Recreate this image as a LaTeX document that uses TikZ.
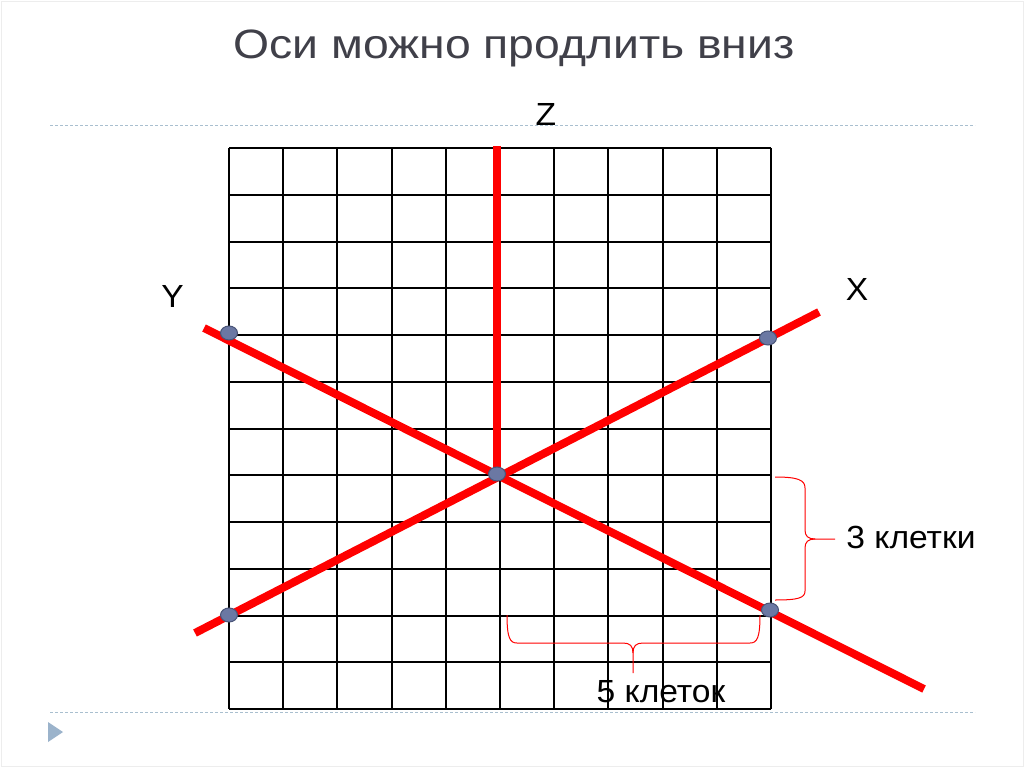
\documentclass[tikz,border=0pt]{standalone}
\usepackage{fontspec}
\setmainfont{Liberation Sans}
\usetikzlibrary{shapes.geometric}
\definecolor{axisred}{HTML}{FF0000}
\definecolor{dotfill}{HTML}{6B78A3}
\definecolor{dotline}{HTML}{4A5578}
\definecolor{rulecol}{HTML}{A9BFCF}
\definecolor{titlecol}{HTML}{404049}
\definecolor{tricol}{HTML}{9BB3CB}
\begin{document}
\begin{tikzpicture}[x=1pt,y=-1pt,
  gridline/.style={line width=2pt, black},
  axisline/.style={line width=8pt, axisred},
  ptdot/.style={ellipse, fill=dotfill, draw=dotline, line width=1pt, minimum width=17pt, minimum height=14pt, inner sep=0pt},
  lbl/.style={font=\fontsize{32}{38}\selectfont, text=black, inner sep=0pt, xscale=1.05},
  bracestyle/.style={axisred, line width=1pt},
  rulestyle/.style={rulecol, line width=1pt, dash pattern=on 3pt off 2pt}]
\useasboundingbox (0,0) rectangle (1024,767);
\fill[white] (0,0) rectangle (1024,767);
\draw[black!7] (1,1) rectangle (1023,766);
% title
\node[font=\fontsize{41}{48}\selectfont, text=titlecol, inner sep=0pt, anchor=base, xscale=1.13] (title) at (514,59) {Оси можно продлить вниз};
% rules
\coordinate (r1a) at (50,126); \coordinate (r1b) at (975,126);
\coordinate (r2a) at (50,712); \coordinate (r2b) at (975,712);
\draw[rulestyle] (r1a) -- (r1b);
\draw[rulestyle] (r2a) -- (r2b);
\fill[tricol] (48,722) -- (48,742) -- (63,732) -- cycle;
% grid
\foreach \i in {0,...,10} \draw[gridline] ({229+\i*54.2},148) -- ({229+\i*54.2},709);
\foreach \j in {0,...,12} \draw[gridline] (229,{148+\j*46.75}) -- (771,{148+\j*46.75});
% axes
\coordinate (O) at (497,474);
\coordinate (ztop) at (497,146);
\coordinate (ystart) at (204,328);
\coordinate (yend) at (924,689);
\coordinate (xstart) at (195,633);
\coordinate (xend) at (819,312);
\draw[axisline] (O) -- (ztop);
\draw[axisline] (ystart) -- (yend);
\draw[axisline] (xstart) -- (xend);
% dots
\node[ptdot] (p0) at (O) {};
\node[ptdot] (py1) at (229,333) {};
\node[ptdot] (py2) at (770,610) {};
\node[ptdot] (px1) at (229,615) {};
\node[ptdot] (px2) at (768,338) {};
% labels
\node[lbl] (zl) at (546,114) {Z};
\node[lbl] (yl) at (172.5,296) {Y};
\node[lbl] (xl) at (857,289) {X};
% braces
\draw[bracestyle] (775,477) .. controls (798,477) and (805,480) .. (805,488) -- (805,530)
  .. controls (805,536) and (808,539) .. (815,539) -- (835,539);
\draw[bracestyle] (815,539) .. controls (808,539) and (805,542) .. (805,548) -- (805,591)
  .. controls (805,598) and (798,600) .. (775,600);
\draw[bracestyle] (507,615) .. controls (507,638) and (510,643) .. (517,643) -- (623,643)
  .. controls (630,643) and (633,646) .. (633,653) -- (633,673);
\draw[bracestyle] (633,653) .. controls (633,646) and (636,643) .. (643,643) -- (750,643)
  .. controls (757,643) and (760,638) .. (760,615);
\node[lbl] (three) at (911,537) {3 клетки};
\node[lbl] (five) at (661,691.5) {5 клеток};
\end{tikzpicture}
\end{document}
